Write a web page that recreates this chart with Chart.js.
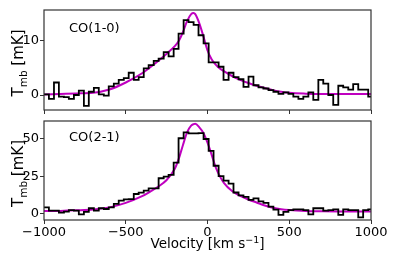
<!DOCTYPE html>
<html>
<head>
<meta charset="utf-8">
<script src="https://cdn.jsdelivr.net/npm/chart.js@4"></script>
<style>
html, body { margin: 0; padding: 0; background: #fff; }
#wrap { position: relative; width: 399px; height: 266px; }
#topChart { position: absolute; left: 0; top: 0; }
#botChart { position: absolute; left: 0; top: 116px; }
</style>
</head>
<body>
<div id="wrap">
  <canvas id="topChart" width="399" height="116"></canvas>
  <canvas id="botChart" width="399" height="150"></canvas>
</div>
<script>
// channel left edges (km/s), ~30.5 km/s wide
const channelEdges = [
    -1000, -970, -939, -909, -878, -848, -817, -787, -756, -726,
    -695, -665, -634, -604, -573, -543, -512, -482, -451, -421,
    -390, -360, -329, -299, -268, -238, -207, -177, -146, -116,
    -85, -55, -24, 7, 37, 68, 98, 129, 159, 190,
    220, 251, 281, 312, 342, 373, 403, 434, 464, 495,
    525, 556, 586, 617, 647, 678, 708, 739, 769, 800,
    830, 861, 891, 922, 952, 983
];
const channelEnd = 1013;

// CO(1-0) spectrum, mK
const co10 = [
    0.1, -0.7, 2.3, -0.3, -0.4, -0.7, 0.0, 0.8, -2.0, 0.6,
    1.3, 0.1, -0.1, 1.6, 2.1, 2.8, 3.1, 4.1, 2.8, 3.3,
    4.9, 5.5, 6.3, 6.7, 7.9, 7.1, 8.5, 11.3, 13.8, 13.4,
    12.9, 11.0, 9.5, 6.0, 6.0, 5.2, 2.8, 4.1, 3.3, 2.9,
    1.5, 3.4, 1.8, 1.4, 1.2, 0.9, 0.6, 0.2, 0.5, 0.2,
    -0.3, -0.7, -0.3, 0.5, -0.9, 2.8, 2.1, 0.0, -1.8, 1.7,
    1.4, 1.0, 2.0, 1.0, 1.0, -0.3
];

// CO(2-1) spectrum, mK
const co21 = [
    4.0, 1.8, 1.8, 0.4, 1.1, 2.2, 1.8, -0.7, 0.9, 3.4,
    1.8, 3.4, 2.9, 4.0, 6.3, 8.5, 9.4, 9.6, 13.0, 13.9,
    15.3, 16.8, 16.8, 23.6, 24.7, 25.8, 34.1, 50.5, 54.5, 53.8,
    53.8, 54.0, 50.0, 42.0, 32.0, 25.0, 22.0, 20.0, 14.0, 12.0,
    11.0, 9.0, 10.0, 8.0, 7.0, 4.5, 2.5, -1.0, 1.0, 2.2,
    2.7, 2.7, 2.2, -0.7, 3.4, 3.4, 1.8, 2.2, 2.7, -1.0,
    2.7, 2.2, 2.2, -2.7, 2.2, 2.7
];

// fitted model curves
const modelVelocity = [
    -1000, -900, -800, -700, -600, -500, -400, -350, -300, -250,
    -200, -175, -150, -125, -100, -85, -75, -50, -25, 0,
    25, 50, 75, 100, 150, 200, 250, 300, 350, 400,
    450, 500, 600, 700, 800, 900, 1000
];
const model10 = [
    0.1, 0.2, 0.3, 0.4, 1.0, 2.3, 4.0, 5.1, 6.3, 7.6,
    9.0, 10.0, 11.6, 13.6, 14.9, 15.1, 14.9, 13.2, 10.8, 8.2,
    6.6, 5.6, 4.9, 4.4, 3.5, 2.8, 2.2, 1.7, 1.3, 0.9,
    0.6, 0.4, 0.25, 0.2, 0.2, 0.2, 0.2
];
const model21 = [
    1.5, 1.6, 2.0, 2.6, 4.0, 7.0, 11.5, 14.6, 18.0, 22.4,
    30.0, 37.0, 46.0, 54.5, 59.0, 60.0, 60.2, 57.8, 54.0, 47.5,
    39.5, 31.0, 25.0, 20.5, 15.0, 11.8, 9.3, 7.3, 5.3, 3.8,
    2.8, 2.2, 1.6, 1.4, 1.3, 1.3, 1.3
];

const xTicks = [-1000, -500, 0, 500, 1000];
const topYTicks = [0, 10];
const botYTicks = [0, 25, 50];

const FONT = "'DejaVu Sans', sans-serif";
const INK = "#000";
const SPINE = "#333";

function histPoints(values) {
    const pts = channelEdges.map((x, i) => ({ x: x, y: values[i] }));
    pts.push({ x: channelEnd, y: values[values.length - 1] });
    return pts;
}

function modelPoints(values) {
    return modelVelocity.map((x, i) => ({ x: x, y: values[i] }));
}

function minus(v) {
    return String(v).replace("-", "\u2212");
}

// draw a run of [text, font, shift] pieces starting at x
function drawPieces(ctx, pieces, x, y) {
    pieces.forEach(p => {
        ctx.font = p[1];
        ctx.fillText(p[0], x, y + p[2]);
        x += ctx.measureText(p[0]).width;
    });
}

function piecesWidth(ctx, pieces) {
    let w = 0;
    pieces.forEach(p => {
        ctx.font = p[1];
        w += ctx.measureText(p[0]).width;
    });
    return w;
}

const panelDeco = {
    id: "panelDeco",
    afterDraw(chart, args, opts) {
        const ctx = chart.ctx;
        const ca = chart.chartArea;
        ctx.save();
        // frame
        ctx.strokeStyle = SPINE;
        ctx.lineWidth = 1.2;
        ctx.strokeRect(ca.left, ca.top, ca.right - ca.left, ca.bottom - ca.top);

        // line label
        ctx.fillStyle = INK;
        ctx.font = "13px " + FONT;
        ctx.textAlign = "left";
        ctx.textBaseline = "alphabetic";
        ctx.fillText(opts.label, 69, ca.top + opts.labelDy);

        // y title T_mb [mK], rotated
        const big = "15px " + FONT;
        const small = "10.5px " + FONT;
        const yPieces = [["T", big, 0], ["mb", small, 3.5], [" [mK]", big, 0]];
        const total = piecesWidth(ctx, yPieces);
        const cy = (ca.top + ca.bottom) / 2 + 3;
        ctx.translate(23, cy);
        ctx.rotate(-Math.PI / 2);
        drawPieces(ctx, yPieces, -total / 2, 0);
        ctx.restore();

        if (opts.xTitle) {
            ctx.save();
            ctx.fillStyle = INK;
            ctx.textAlign = "left";
            ctx.textBaseline = "alphabetic";
            const f = "13.5px " + FONT;
            const fs = "9.5px " + FONT;
            const xPieces = [["Velocity [km s", f, 0], ["\u22121", fs, -5], ["]", f, 0]];
            const w = piecesWidth(ctx, xPieces);
            drawPieces(ctx, xPieces, (ca.left + ca.right) / 2 - w / 2, ca.bottom + 28);
            ctx.restore();
        }
    }
};

function makePanel(canvas, cfg) {
    return new Chart(canvas, {
        type: "line",
        data: {
            datasets: [{
                data: histPoints(cfg.spectrum),
                borderColor: INK,
                borderWidth: 1.8,
                stepped: "before",
                pointRadius: 0,
                fill: false
            }, {
                data: modelPoints(cfg.model),
                borderColor: "#bf00bf",
                borderWidth: 2,
                cubicInterpolationMode: "monotone",
                pointRadius: 0,
                fill: false
            }]
        },
        options: {
            responsive: false,
            animation: false,
            events: [],
            layout: { padding: { top: cfg.padTop, right: 28, bottom: 0, left: 0 } },
            plugins: {
                legend: { display: false },
                tooltip: { enabled: false },
                panelDeco: { label: cfg.label, labelDy: cfg.labelDy, xTitle: cfg.showX }
            },
            scales: {
                x: {
                    type: "linear",
                    min: -1000,
                    max: 1000,
                    afterBuildTicks: s => { s.ticks = xTicks.map(v => ({ value: v })); },
                    afterFit: s => {
                        s.height = cfg.xHeight;
                        s.paddingLeft = 0;
                        s.paddingRight = 0;
                    },
                    border: { display: false },
                    grid: { drawOnChartArea: false, drawTicks: true, tickLength: 4, color: SPINE, lineWidth: 1 },
                    ticks: {
                        display: cfg.showX,
                        maxRotation: 0,
                        autoSkip: false,
                        padding: 1,
                        color: INK,
                        font: { family: FONT, size: 13 },
                        callback: v => minus(v)
                    }
                },
                y: {
                    type: "linear",
                    min: cfg.yMin,
                    max: cfg.yMax,
                    afterBuildTicks: s => { s.ticks = cfg.yTicks.map(v => ({ value: v })); },
                    afterFit: s => {
                        s.width = 44;
                        s.paddingTop = 0;
                        s.paddingBottom = 0;
                    },
                    border: { display: false },
                    grid: { drawOnChartArea: false, drawTicks: true, tickLength: 4, color: SPINE, lineWidth: 1 },
                    ticks: {
                        padding: 1,
                        color: INK,
                        font: { family: FONT, size: 13 },
                        callback: v => minus(v)
                    }
                }
            }
        },
        plugins: [panelDeco]
    });
}

makePanel(document.getElementById("topChart"), {
    spectrum: co10,
    model: model10,
    label: "CO(1-0)",
    labelDy: 21.5,
    showX: false,
    xHeight: 6,
    padTop: 10,
    yMin: -2.76,
    yMax: 15.65,
    yTicks: topYTicks
});

makePanel(document.getElementById("botChart"), {
    spectrum: co21,
    model: model21,
    label: "CO(2-1)",
    labelDy: 19.5,
    showX: true,
    xHeight: 46,
    padTop: 5,
    yMin: -4.5,
    yMax: 62.1,
    yTicks: botYTicks
});
</script>
</body>
</html>
